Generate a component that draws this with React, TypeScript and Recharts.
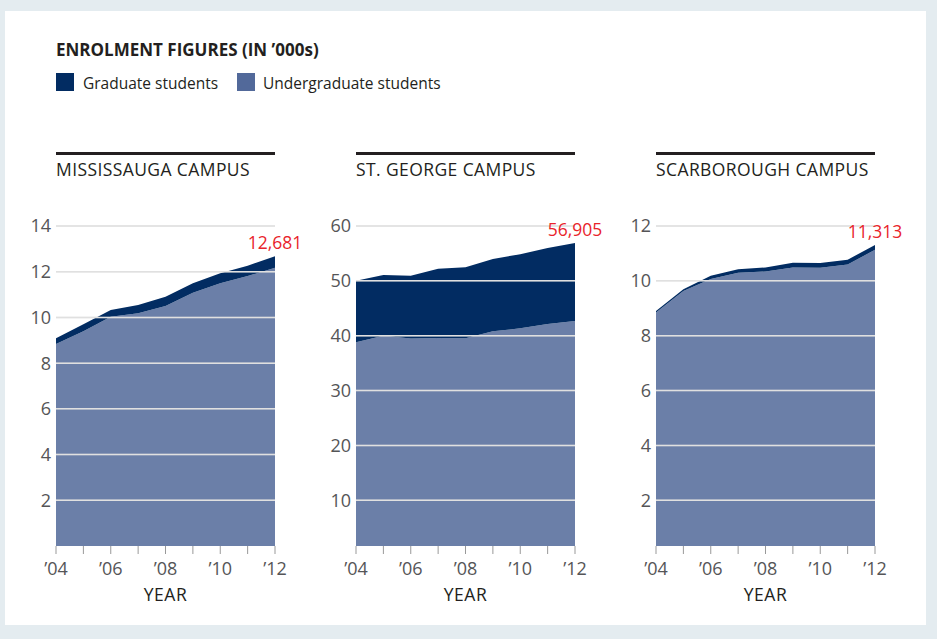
import React from 'react';
import { AreaChart, Area, XAxis, YAxis, ReferenceLine, LabelList } from 'recharts';

const years = [2004, 2005, 2006, 2007, 2008, 2009, 2010, 2011, 2012];

// enrolment in thousands
const missUnder = [8.84, 9.4, 10.03, 10.18, 10.5, 11.08, 11.49, 11.81, 12.17];
const missGrad = [0.25, 0.3, 0.29, 0.36, 0.41, 0.41, 0.44, 0.45, 0.51];
const sgUnder = [38.8, 40.0, 39.5, 39.6, 39.55, 40.8, 41.35, 42.15, 42.7];
const sgGrad = [11.2, 11.07, 11.44, 12.6, 12.95, 13.2, 13.49, 13.85, 14.2];
const scUnder = [8.85, 9.63, 10.07, 10.3, 10.34, 10.49, 10.48, 10.6, 11.13];
const scGrad = [0.05, 0.06, 0.12, 0.12, 0.15, 0.17, 0.17, 0.17, 0.18];

const campusNames = ['MISSISSAUGA CAMPUS', 'ST. GEORGE CAMPUS', 'SCARBOROUGH CAMPUS'];
const totals2012 = ['12,681', '56,905', '11,313'];
const missTicks = [2, 4, 6, 8, 10, 12, 14];
const sgTicks = [10, 20, 30, 40, 50, 60];
const scTicks = [2, 4, 6, 8, 10, 12];

const FONT = '"Open Sans", sans-serif';
const NAVY = '#022c62';
const UNDER = '#6b7fa8';
const UNDER_KEY = '#52699a';

const PLOT_W = 219;
const PLOT_TOP = 226;
const PLOT_LEFTS = [56, 356, 656];

const toRows = (under: number[], grad: number[]) =>
  years.map((year, i) => ({ year, under: under[i], grad: grad[i] }));

interface PanelProps {
  idx: number;
  under: number[];
  grad: number[];
  domain: [number, number];
  ticks: number[];
}

function Panel({ idx, under, grad, domain, ticks }: PanelProps) {
  const data = toRows(under, grad);
  const left = PLOT_LEFTS[idx];
  const last = data.length - 1;

  return (
    <>
      <div style={{ position: 'absolute', left, top: 152, width: PLOT_W, height: 3, background: '#231f20' }} />
      <div
        style={{
          position: 'absolute',
          left,
          top: 159,
          fontSize: 17.5,
          lineHeight: '20px',
          color: '#231f20',
          letterSpacing: 0.4,
          whiteSpace: 'nowrap',
        }}
      >
        {campusNames[idx]}
      </div>
      <div style={{ position: 'absolute', left: left - 50, top: PLOT_TOP - 40 }}>
        <AreaChart width={309} height={430} data={data} margin={{ top: 40, right: 40, bottom: 0, left: 0 }}>
          <XAxis
            dataKey="year"
            type="number"
            domain={[2004, 2012]}
            ticks={years}
            axisLine={false}
            tickLine={{ stroke: '#999' }}
            tickSize={8}
            tickMargin={8}
            height={70}
            tickFormatter={(v: number) => (v % 2 === 0 ? '\u2019' + String(v).slice(2) : '')}
            tick={{ fill: '#555557', fontSize: 18, fontFamily: FONT }}
            label={{
              value: 'YEAR',
              position: 'insideBottom',
              offset: 15,
              fill: '#231f20',
              fontSize: 17.5,
              fontFamily: FONT,
              letterSpacing: 0.5,
            }}
          />
          <YAxis
            type="number"
            domain={domain}
            ticks={ticks}
            allowDataOverflow
            axisLine={false}
            tickLine={false}
            tickSize={0}
            tickMargin={5}
            width={50}
            tick={{ fill: '#555557', fontSize: 18, fontFamily: FONT }}
          />
          {ticks.map((t) => (
            <ReferenceLine key={'g' + t} y={t} stroke="#cccccc" strokeWidth={1.5} />
          ))}
          <Area
            type="linear"
            dataKey="under"
            stackId="a"
            stroke="none"
            fill={UNDER}
            fillOpacity={1}
            isAnimationActive={false}
          />
          <Area
            type="linear"
            dataKey="grad"
            stackId="a"
            stroke="none"
            fill={NAVY}
            fillOpacity={1}
            isAnimationActive={false}
          >
            <LabelList
              dataKey="grad"
              content={(p: any) =>
                p.index === last ? (
                  <text x={p.x} y={p.y - 7} textAnchor="middle" fill="#e9232b" fontSize={17.5} fontFamily={FONT}>
                    {totals2012[idx]}
                  </text>
                ) : null
              }
            />
          </Area>
          {ticks.map((t) => (
            <ReferenceLine key={'o' + t} y={t} stroke="rgba(255,255,255,0.4)" strokeWidth={1.5} />
          ))}
        </AreaChart>
      </div>
    </>
  );
}

export default function App() {
  return (
    <div style={{ position: 'absolute', left: 0, top: 0, width: 937, height: 639, background: '#e4ecf0', fontFamily: FONT }}>
      <div style={{ position: 'absolute', left: 5, top: 11, width: 921, height: 614, background: '#fff' }} />
      <div
        style={{
          position: 'absolute',
          left: 56,
          top: 40,
          fontSize: 17,
          fontWeight: 700,
          lineHeight: '20px',
          color: '#231f20',
          whiteSpace: 'nowrap',
        }}
      >
        ENROLMENT FIGURES (IN {'\u2019'}000s)
      </div>
      <div style={{ position: 'absolute', left: 56, top: 73, width: 18, height: 18, background: NAVY }} />
      <div style={{ position: 'absolute', left: 83, top: 73, fontSize: 15.5, lineHeight: '20px', color: '#231f20', whiteSpace: 'nowrap' }}>
        Graduate students
      </div>
      <div style={{ position: 'absolute', left: 237, top: 73, width: 18, height: 18, background: UNDER_KEY }} />
      <div style={{ position: 'absolute', left: 263, top: 73, fontSize: 15.5, lineHeight: '20px', color: '#231f20', whiteSpace: 'nowrap' }}>
        Undergraduate students
      </div>
      <Panel idx={0} under={missUnder} grad={missGrad} domain={[0, 14]} ticks={missTicks} />
      <Panel idx={1} under={sgUnder} grad={sgGrad} domain={[5 / 3, 60]} ticks={sgTicks} />
      <Panel idx={2} under={scUnder} grad={scGrad} domain={[1 / 3, 12]} ticks={scTicks} />
    </div>
  );
}
